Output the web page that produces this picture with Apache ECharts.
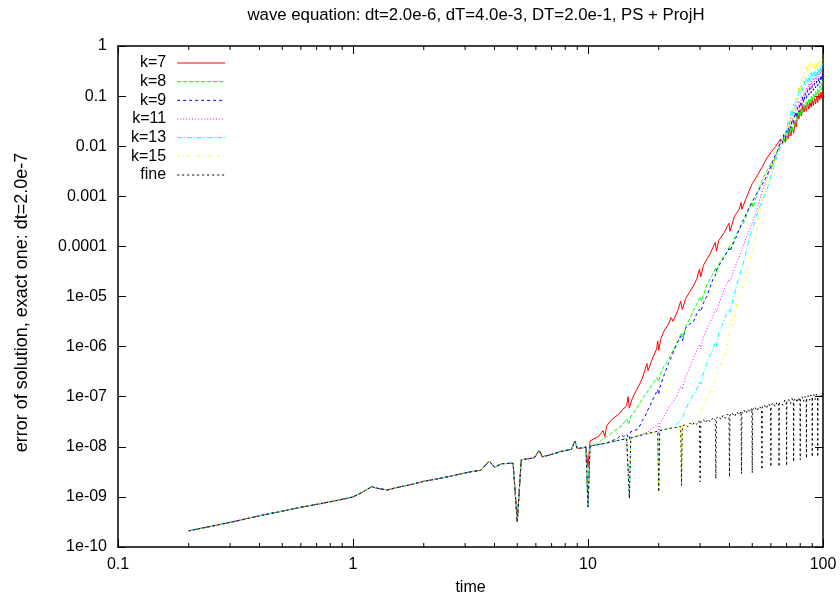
<!DOCTYPE html>
<html>
<head>
<meta charset="utf-8">
<script src="https://cdn.jsdelivr.net/npm/echarts@6/dist/echarts.min.js"></script>
<style>
html,body{margin:0;padding:0;background:#fff;}
#chart{width:840px;height:597px;}
</style>
</head>
<body>
<div id="chart"></div>
<script>
// ---------- DATA ----------
const titleText = 'wave equation: dt=2.0e-6, dT=4.0e-3, DT=2.0e-1, PS + ProjH';
const xName = 'time';
const yName = 'error of solution, exact one: dt=2.0e-7';
const seriesNames = ['k=7', 'k=8', 'k=9', 'k=11', 'k=13', 'k=15', 'fine'];
const xTickLabels = ['0.1', '1', '10', '100'];
const yTickLabels = ['1e-10', '1e-09', '1e-08', '1e-07', '1e-06', '1e-05', '0.0001', '0.001', '0.01', '0.1', '1'];
const xMinorTicks = [0.2,0.3,0.4,0.5,0.6,0.7,0.8,0.9,2,3,4,5,6,7,8,9,20,30,40,50,60,70,80,90];

// common early part (all runs coincide), [time, error]
const basePts = [[0.2,2.1e-10],[0.3,3.1e-10],[0.4,4.2e-10],[0.5,5.2e-10],[0.6,6.2e-10],[0.7,7.1e-10],[0.8,8e-10],[0.9,8.9e-10],[1.0,1e-9],[1.1,1.25e-9],[1.2,1.6e-9],[1.3,1.45e-9],[1.4,1.38e-9],[1.6,1.6e-9],[1.8,1.8e-9],[2.0,2.05e-9],[2.3,2.3e-9],[2.6,2.6e-9],[2.9,2.9e-9],[3.2,3.2e-9],[3.5,3.4e-9],[3.8,5.2e-9],[4.0,3.9e-9],[4.3,4.6e-9],[4.8,4.7e-9],[5.0,3.2e-10],[5.2,5.5e-9],[5.6,5.8e-9],[5.9,6e-9],[6.2,8.5e-9],[6.4,6.3e-9],[6.8,6.8e-9],[7.2,7.3e-9],[7.6,8e-9],[8.0,8.4e-9],[8.5,8.9e-9],[8.8,1.3e-8],[9.0,9.2e-9],[9.5,9.6e-9],[9.8,9.9e-9],[10.0,6.3e-10],[10.2,1.03e-8]];

const redTail = [[9.6,9.6e-9],[9.8,1.0e-8],[10.0,4e-9],[10.2,1.3e-8],[10.6,1.45e-8],[11.0,1.55e-8],[11.4,1.9e-8],[11.6,2.1e-8],[11.8,1.6e-8],[12.0,2.6e-8],[12.6,3.5e-8],[13.0,3.9e-8],[13.6,4.6e-8],[14.0,5.5e-8],[14.6,6.5e-8],[14.8,1e-7],[15.0,6e-8],[15.4,9e-8],[16.0,1.3e-7],[16.6,1.8e-7],[17.0,2.3e-7],[17.4,3.2e-7],[17.8,4.6e-7],[18.0,3.3e-7],[18.6,5e-7],[19.0,6.5e-7],[19.6,9e-7],[19.8,1.3e-6],[20.0,8.5e-7],[20.4,1.4e-6],[21,2e-6],[22,2.8e-6],[22.6,3.8e-6],[23,3.2e-6],[24,5e-6],[24.8,8e-6],[25.2,5.5e-6],[26,9e-6],[27,1.2e-5],[28,1.6e-5],[29,2.2e-5],[29.8,3.5e-5],[30.2,2.5e-5],[31,4.2e-5],[32,5.5e-5],[33,7e-5],[34.8,1.2e-4],[35.2,8e-5],[36,1.3e-4],[38,1.9e-4],[39.8,2.9e-4],[40.2,2e-4],[42,4e-4],[44,5.5e-4],[44.8,7.5e-4],[45.2,5.5e-4],[47,9e-4],[50,1.8e-3],[52,2.4e-3],[55,3.8e-3],[58,6e-3],[60,7.5e-3],[63,1e-2],[66,1.4e-2],[67,1.1e-2],[68,1.6e-2],[69,1.2e-2],[70,1.8e-2],[71,1.4e-2],[72,2.2e-2],[73,1.6e-2],[74,2.4e-2],[75,1.8e-2],[76,3e-2],[77,2.4e-2],[78,4.5e-2],[79,3.5e-2],[80,5.5e-2],[81,4e-2],[82,6.5e-2],[83,4.8e-2],[84,6.5e-2],[85,5e-2],[86,7.5e-2],[87,5.5e-2],[88,7.5e-2],[89,6e-2],[90,8.5e-2],[91,6.5e-2],[92,9e-2],[93,7e-2],[94,1e-1],[95,7.5e-2],[96,1.1e-1],[97,8.5e-2],[98,1.2e-1],[99,9e-2],[100,1.3e-1]];

const greenTail = [[10.6,1.08e-8],[11,1.15e-8],[11.5,1.4e-8],[12,1.6e-8],[12.5,1.8e-8],[13,2.1e-8],[13.5,2.4e-8],[14,2.7e-8],[14.6,3.6e-8],[14.9,2.8e-8],[15.2,4e-8],[16,5.5e-8],[16.6,7.4e-8],[17,9e-8],[18,1.3e-7],[19,1.9e-7],[19.6,2.4e-7],[20,2e-7],[20.4,3e-7],[21,4e-7],[22,5.5e-7],[23,8.5e-7],[24,1.2e-6],[25,1.9e-6],[25.4,1.4e-6],[26,2.5e-6],[27,3.5e-6],[28,5e-6],[29,7e-6],[30,1e-5],[30.4,8e-6],[32,1.7e-5],[34,2.8e-5],[35,3.8e-5],[35.4,3e-5],[36,4.5e-5],[38.8,7.3e-5],[40,1e-4],[40.4,8.5e-5],[42,1.5e-4],[44,2.2e-4],[46,3e-4],[48,5e-4],[50,7.5e-4],[50.4,6e-4],[53,1.3e-3],[56,2.5e-3],[60,4.5e-3],[60.4,3.5e-3],[64,8e-3],[66,1.1e-2],[67,1.4e-2],[68,1.1e-2],[69,1.7e-2],[70,1.3e-2],[71,2.1e-2],[72,1.6e-2],[73,2.6e-2],[74,2e-2],[75,3.2e-2],[76,2.5e-2],[77,4e-2],[78,3.2e-2],[79,5e-2],[80,4e-2],[81,6e-2],[82,4.6e-2],[83,7e-2],[84,5.5e-2],[85,8e-2],[86,6.5e-2],[87,9e-2],[88,7e-2],[89,1e-1],[90,8e-2],[91,1.1e-1],[92,9e-2],[93,1.25e-1],[94,1e-1],[95,1.4e-1],[96,1.1e-1],[97,1.6e-1],[98,1.3e-1],[99,1.8e-1],[100,2.1e-1]];

const blueTail = [[10.6,1.07e-8],[11,1.1e-8],[11.6,1.16e-8],[12,1.2e-8],[12.6,1.3e-8],[13,1.4e-8],[13.4,1.5e-8],[13.8,1.7e-8],[14.2,1.6e-8],[14.6,1.8e-8],[14.8,1.9e-8],[15,1.4e-8],[15.2,2e-8],[15.8,2.1e-8],[16.4,2.3e-8],[17,3.3e-8],[17.6,4.3e-8],[18,5.5e-8],[18.6,7.5e-8],[19,9.3e-8],[19.8,1.4e-7],[20,1.1e-7],[20.2,1.5e-7],[21,2.6e-7],[22,4.6e-7],[22.6,6e-7],[23,7.5e-7],[24,1.2e-6],[24.8,1.6e-6],[25.2,1.3e-6],[26,2.3e-6],[27,2.8e-6],[28,3e-6],[29,4.5e-6],[29.8,5.5e-6],[30.2,5e-6],[31,7.5e-6],[32,1e-5],[33,1.5e-5],[34,2.2e-5],[34.8,2.6e-5],[35.2,3.4e-5],[37,5e-5],[39.8,9e-5],[40.2,8e-5],[42.8,1.56e-4],[45,2.8e-4],[48.7,6.2e-4],[52,1.1e-3],[55,1.7e-3],[57.6,2.5e-3],[60,4e-3],[62,6e-3],[64,8e-3],[66,1.3e-2],[67,1.1e-2],[68,1.7e-2],[69,1.4e-2],[70,2.2e-2],[71,1.8e-2],[72,3e-2],[73,2.3e-2],[74,3.6e-2],[75,2.8e-2],[76,4.8e-2],[77,3.8e-2],[78,6e-2],[79,4.8e-2],[80,7.5e-2],[81,6e-2],[82,9.8e-2],[83,7.5e-2],[84,1.15e-1],[85,9e-2],[86,1.3e-1],[87,1.05e-1],[88,1.45e-1],[89,1.15e-1],[90,1.6e-1],[91,1.3e-1],[92,1.8e-1],[93,1.45e-1],[94,2e-1],[95,1.6e-1],[96,2.3e-1],[97,1.8e-1],[98,2.6e-1],[99,2.1e-1],[100,3.3e-1]];

const magentaTail = [[10.6,1.07e-8],[11,1.1e-8],[11.6,1.15e-8],[12,1.2e-8],[12.6,1.25e-8],[13,1.3e-8],[13.6,1.36e-8],[14,1.4e-8],[14.6,1.45e-8],[14.8,1.46e-8],[15,9.5e-10],[15.2,1.5e-8],[16,1.6e-8],[16.6,1.7e-8],[17.4,1.9e-8],[18,1.95e-8],[18.6,2.3e-8],[19.2,2.5e-8],[19.8,2.9e-8],[20,1.8e-8],[20.2,3e-8],[20.6,3.4e-8],[21.4,4.6e-8],[22.2,6.5e-8],[23,8e-8],[23.8,1e-7],[24.8,1.6e-7],[25.2,1.4e-7],[26,2.5e-7],[27.2,4e-7],[28.4,6.5e-7],[29.8,1.1e-6],[30.2,9e-7],[31,1.6e-6],[32,2.2e-6],[33,3e-6],[34,4e-6],[34.8,5.5e-6],[35.2,5e-6],[37,1e-5],[38,1.4e-5],[39.8,2.2e-5],[40.2,2e-5],[42.8,4.6e-5],[45,8e-5],[46.8,1.4e-4],[48.7,2.1e-4],[50.5,3.5e-4],[52,5e-4],[55,1.2e-3],[57,2e-3],[59.4,3.4e-3],[62,5.5e-3],[64,8e-3],[66,1.1e-2],[67,1.4e-2],[68,1.2e-2],[69,1.8e-2],[70,1.5e-2],[71,2.6e-2],[72,2.1e-2],[73,3.6e-2],[74,2.9e-2],[75,5e-2],[76,4e-2],[77,6.5e-2],[78,5.2e-2],[79,8e-2],[80,6.5e-2],[81,1e-1],[82,8e-2],[83,1.2e-1],[84,1e-1],[85,1.5e-1],[86,1.2e-1],[87,1.75e-1],[88,1.4e-1],[89,2e-1],[90,1.6e-1],[91,2.3e-1],[92,1.9e-1],[93,2.6e-1],[94,2.1e-1],[95,3e-1],[96,2.4e-1],[97,3.3e-1],[98,2.7e-1],[99,3.6e-1],[100,3.9e-1]];

const cyanTail = [[10.6,1.07e-8],[11,1.1e-8],[11.6,1.15e-8],[12,1.2e-8],[12.6,1.25e-8],[13,1.3e-8],[13.6,1.36e-8],[14,1.4e-8],[14.6,1.45e-8],[14.8,1.46e-8],[15,9.5e-10],[15.2,1.5e-8],[16,1.6e-8],[16.6,1.68e-8],[17.4,1.78e-8],[18.2,1.86e-8],[19,1.95e-8],[19.8,2.05e-8],[20,1.3e-9],[20.2,2.1e-8],[21,2.2e-8],[21.8,2.3e-8],[22.6,2.4e-8],[23.1,2.5e-8],[24,2.9e-8],[24.8,3.4e-8],[25.2,3.8e-8],[26,5.5e-8],[27,8e-8],[28,1.1e-7],[28.9,1.35e-7],[29.8,2e-7],[30.2,1.8e-7],[31,3e-7],[32,4.5e-7],[33,6.3e-7],[34,9e-7],[34.8,1.2e-6],[35.2,1e-6],[36,1.8e-6],[37.5,2.9e-6],[38.9,4.6e-6],[39.8,5.5e-6],[40.2,5e-6],[41.5,9e-6],[42.8,1.6e-5],[44,2.5e-5],[45,3.5e-5],[46.5,6e-5],[48.7,1.56e-4],[50.5,2.5e-4],[52,4e-4],[55,8e-4],[57.6,1.3e-3],[60,2.5e-3],[62,4e-3],[64,6.5e-3],[66,1e-2],[67,1.4e-2],[68,1.2e-2],[69,2e-2],[70,1.7e-2],[71,3.2e-2],[72,2.6e-2],[73,5e-2],[74,4e-2],[75,7e-2],[76,5.5e-2],[77,9.5e-2],[78,7.5e-2],[79,1.5e-1],[80,1.1e-1],[81,1.7e-1],[82,1.3e-1],[83,2e-1],[84,1.6e-1],[85,2.3e-1],[86,1.8e-1],[87,2.6e-1],[88,2e-1],[89,2.9e-1],[90,2.2e-1],[91,3.1e-1],[92,2.5e-1],[93,3.3e-1],[94,2.6e-1],[95,3.6e-1],[96,2.9e-1],[97,3.9e-1],[98,3.1e-1],[99,4.2e-1],[100,4.5e-1]];

const yellowTail = [[10.6,1.07e-8],[11,1.1e-8],[11.6,1.15e-8],[12,1.2e-8],[12.6,1.25e-8],[13,1.3e-8],[13.6,1.36e-8],[14,1.4e-8],[14.6,1.45e-8],[14.8,1.46e-8],[15,9.5e-10],[15.2,1.5e-8],[16,1.6e-8],[16.6,1.68e-8],[17.4,1.78e-8],[18.2,1.86e-8],[19,1.95e-8],[19.8,2.05e-8],[20,1.3e-9],[20.2,2.1e-8],[21,2.2e-8],[21.8,2.3e-8],[22.6,2.35e-8],[23.4,2.4e-8],[24.2,2.5e-8],[24.8,2.55e-8],[25,1.7e-9],[25.2,2.6e-8],[26,2.65e-8],[27,2.8e-8],[28.1,2.95e-8],[29,3.3e-8],[29.8,3.4e-8],[30.4,5.4e-8],[31,6.5e-8],[32,9e-8],[33,1.2e-7],[33.9,1.6e-7],[34.8,2.4e-7],[35.2,2.2e-7],[36,3.5e-7],[37.4,5.5e-7],[38.8,8.5e-7],[39.8,1.6e-6],[40.2,2.5e-6],[41,3e-6],[42,4e-6],[43.4,8.5e-6],[44.8,1.3e-5],[45.7,1.6e-5],[47,2.8e-5],[48,4e-5],[49.2,6e-5],[50.5,8.5e-5],[52,1.8e-4],[53,3e-4],[54.5,6e-4],[55.8,1e-3],[57,1.5e-3],[59,2.5e-3],[61,4e-3],[63.4,6.2e-3],[65,9e-3],[66,1e-2],[67,1.4e-2],[68,1.1e-2],[69,1.8e-2],[70,1.4e-2],[71,2.6e-2],[72,2.2e-2],[73,4e-2],[74,3.3e-2],[75,6e-2],[76,5e-2],[77,1e-1],[78,8e-2],[79,1.5e-1],[80,1.2e-1],[81,2.2e-1],[82,1.8e-1],[83,3e-1],[84,2.4e-1],[85,4e-1],[86,3e-1],[87,4.5e-1],[88,3.4e-1],[89,4.8e-1],[90,3.6e-1],[91,4.6e-1],[92,3.5e-1],[93,4.8e-1],[94,3.7e-1],[95,5e-1],[96,3.8e-1],[97,5.2e-1],[98,4e-1],[99,5.5e-1],[100,4.9e-1]];

const fineTail = [[10.6,1.07e-8],[11,1.1e-8],[11.6,1.15e-8],[12,1.18e-8],[12.6,1.25e-8],[13,1.3e-8],[13.6,1.36e-8],[14,1.4e-8],[14.6,1.45e-8],[14.8,1.46e-8],[15,9.3e-10],[15.2,1.5e-8],[15.8,1.58e-8],[16.4,1.65e-8],[17,1.72e-8],[17.6,1.8e-8],[18.2,1.85e-8],[18.8,1.95e-8],[19.4,2.0e-8],[19.8,2.05e-8],[20,1.26e-9],[20.2,2.1e-8],[21,2.2e-8],[21.8,2.3e-8],[22.6,2.35e-8],[23.4,2.4e-8],[24.2,2.5e-8],[24.8,2.55e-8],[25,1.7e-9],[25.2,2.6e-8],[26,2.8e-8],[26.6,2.5e-8],[27.2,3e-8],[27.8,2.7e-8],[28.4,3.1e-8],[29,2.8e-8],[29.6,3.3e-8],[29.8,3e-8],[30,2e-9],[30.2,3.2e-8],[31,3.5e-8],[31.6,3e-8],[32.4,3.6e-8],[33.2,3.1e-8],[34,3.8e-8],[34.8,3.4e-8],[35,2.3e-9],[35.2,3.7e-8],[36,4.1e-8],[36.8,3.5e-8],[37.6,4.3e-8],[38.4,3.7e-8],[39.2,4.5e-8],[39.8,4e-8],[40,2.5e-9],[40.2,4.3e-8],[41,4.8e-8],[42,4e-8],[43,5e-8],[44,4.3e-8],[44.8,5.1e-8],[45,2.9e-9],[45.2,4.8e-8],[46,5.5e-8],[47,4.6e-8],[48,5.7e-8],[49,4.9e-8],[49.8,5.9e-8],[50,3e-9],[50.2,5.5e-8],[51.2,6.3e-8],[52.4,5.2e-8],[53.6,6.5e-8],[54.8,5.6e-8],[55,3.5e-9],[55.2,6.3e-8],[56.2,7e-8],[57.4,5.8e-8],[58.6,7.3e-8],[59.8,6.2e-8],[60,4e-9],[60.2,6.8e-8],[61.4,7.6e-8],[62.6,6.3e-8],[63.8,7.9e-8],[64.8,6.8e-8],[65,4e-9],[65.2,7.6e-8],[66.4,8.3e-8],[67.6,6.8e-8],[68.8,8.6e-8],[69.8,7.2e-8],[70,4.2e-9],[70.2,8.1e-8],[71.4,8.9e-8],[72.6,7.2e-8],[73.8,9.2e-8],[74.8,7.6e-8],[75,5e-9],[75.2,8.5e-8],[76.4,9.4e-8],[77.6,7.6e-8],[78.8,9.7e-8],[79.8,8e-8],[80,5.5e-9],[80.2,9e-8],[81.4,1e-7],[82.6,8e-8],[83.8,1.02e-7],[84.8,8.4e-8],[85,5.9e-9],[85.2,9.5e-8],[86.4,1.05e-7],[87.6,8.5e-8],[88.8,1.08e-7],[89.8,8.8e-8],[90,6.3e-9],[90.2,1e-7],[91.4,1.1e-7],[92.6,8.8e-8],[93.8,1.12e-7],[94.8,9e-8],[95,6.3e-9],[95.2,1.05e-7],[96.4,1.15e-7],[97.6,9.3e-8],[98.8,1.2e-7],[100,1.1e-7]];

// ---------- BUILD ----------
const FONT = '"Liberation Sans", Arial, sans-serif';
const colors = ['#ff0000', '#00ff00', '#0000ff', '#ff00ff', '#00ffff', '#ffff00', '#000000'];
const dashes = ['solid', [4, 2], [3, 3], [1, 2], [5, 2, 1, 2], [3, 3, 1, 3], [2, 3]];
const seriesData = [
  basePts.filter(p => p[0] < 9.5).concat(redTail),
  basePts.concat(greenTail),
  basePts.concat(blueTail),
  basePts.concat(magentaTail),
  basePts.concat(cyanTail),
  basePts.concat(yellowTail),
  basePts.concat(fineTail)
];

const lineSeries = seriesNames.map((n, i) => ({
  name: n,
  type: 'line',
  xAxisIndex: 0,
  yAxisIndex: 0,
  data: seriesData[i],
  showSymbol: false,
  symbol: 'none',
  lineStyle: { color: colors[i], width: 1, type: dashes[i] },
  itemStyle: { color: colors[i] },
  emphasis: { disabled: true },
  animation: false,
  clip: true
}));

const minorTickSeries = {
  name: 'minorTicks',
  type: 'custom',
  xAxisIndex: 0,
  yAxisIndex: 0,
  silent: true,
  animation: false,
  clip: false,
  z: 10,
  data: xMinorTicks.map(t => [t, 1e-10]),
  renderItem: function (params, api) {
    const t = api.value(0);
    const pb = api.coord([t, 1e-10]);
    const pt = api.coord([t, 1]);
    return {
      type: 'group',
      children: [
        { type: 'line', shape: { x1: pb[0], y1: pb[1], x2: pb[0], y2: pb[1] - 4 }, style: { stroke: '#000', lineWidth: 1 } },
        { type: 'line', shape: { x1: pt[0], y1: pt[1], x2: pt[0], y2: pt[1] + 4 }, style: { stroke: '#000', lineWidth: 1 } }
      ]
    };
  }
};

const axisLineStyle = { show: true, lineStyle: { color: '#000', width: 1.5 } };
const labelStyle = { color: '#000', fontFamily: FONT, fontSize: 16 };

const option = {
  backgroundColor: '#fff',
  animation: false,
  title: {
    text: titleText,
    left: 471,
    top: 2,
    textAlign: 'center',
    textStyle: { color: '#000', fontFamily: FONT, fontSize: 16.8, fontWeight: 'normal' }
  },
  legend: {
    data: seriesNames,
    orient: 'vertical',
    left: 131,
    top: 55,
    padding: 0,
    align: 'right',
    itemWidth: 48,
    itemHeight: 14,
    itemGap: 2.67,
    selectedMode: false,
    itemStyle: { opacity: 0 },
    lineStyle: { width: 1 },
    formatter: n => '{r|' + n + '}{s| }',
    textStyle: {
      color: '#000', fontFamily: FONT, fontSize: 16,
      rich: {
        r: { width: 36, align: 'right', color: '#000', fontFamily: FONT, fontSize: 16 },
        s: { width: 6, fontSize: 16 }
      }
    }
  },
  grid: { left: 118, right: 17, top: 46, bottom: 50, containLabel: false, outerBoundsMode: 'none' },
  xAxis: [
    {
      type: 'log', logBase: 10, min: 0.1, max: 100, interval: 1, position: 'bottom',
      name: xName, nameLocation: 'middle', nameGap: 33,
      nameTextStyle: { color: '#000', fontFamily: FONT, fontSize: 16 },
      axisLine: axisLineStyle,
      axisTick: { show: true, inside: true, length: 8, lineStyle: { color: '#000', width: 1 } },
      axisLabel: Object.assign({ margin: 10, formatter: v => xTickLabels[Math.round(Math.log10(v)) + 1] }, labelStyle),
      splitLine: { show: false },
      minorTick: { show: false }
    },
    {
      type: 'log', logBase: 10, min: 0.1, max: 100, interval: 1, position: 'top',
      axisLine: axisLineStyle,
      axisTick: { show: true, inside: true, length: 8, lineStyle: { color: '#000', width: 1 } },
      axisLabel: { show: false },
      splitLine: { show: false }
    }
  ],
  yAxis: [
    {
      type: 'log', logBase: 10, min: 1e-10, max: 1, interval: 1, position: 'left',
      name: yName, nameLocation: 'middle', nameGap: 87, nameRotate: 90,
      nameTextStyle: { color: '#000', fontFamily: FONT, fontSize: 18, padding: [0, 12, 0, 0] },
      axisLine: axisLineStyle,
      axisTick: { show: true, inside: true, length: 8, lineStyle: { color: '#000', width: 1 } },
      axisLabel: Object.assign({ margin: 11, formatter: v => yTickLabels[Math.round(Math.log10(v)) + 10] }, labelStyle),
      splitLine: { show: false }
    },
    {
      type: 'log', logBase: 10, min: 1e-10, max: 1, interval: 1, position: 'right',
      axisLine: axisLineStyle,
      axisTick: { show: true, inside: true, length: 8, lineStyle: { color: '#000', width: 1 } },
      axisLabel: { show: false },
      splitLine: { show: false }
    }
  ],
  series: lineSeries.concat([minorTickSeries])
};

const chart = echarts.init(document.getElementById('chart'), null, { renderer: 'canvas' });
chart.setOption(option);
</script>
</body>
</html>
